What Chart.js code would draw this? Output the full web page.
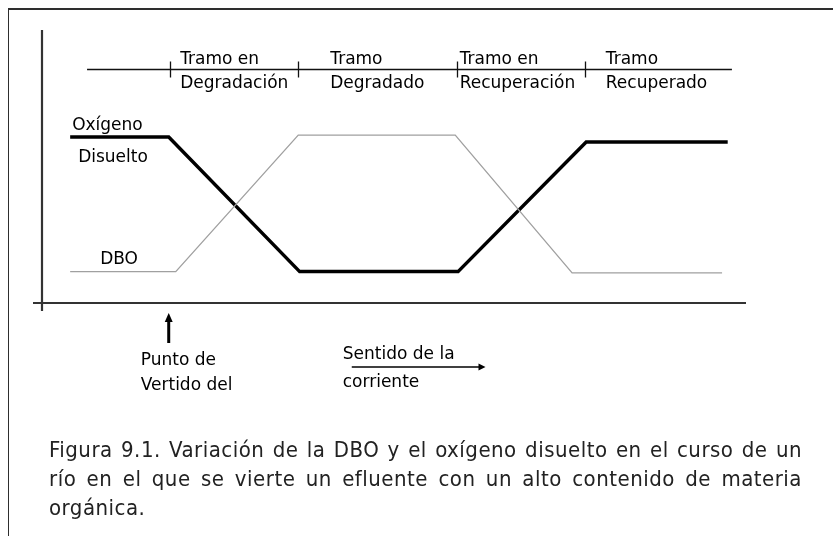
<!DOCTYPE html>
<html><head><meta charset="utf-8">
<script src="https://cdn.jsdelivr.net/npm/chart.js@4/dist/chart.umd.min.js"></script>
<style>
html,body{margin:0;padding:0;background:#fff;}
#wrap{position:relative;width:833px;height:536px;overflow:hidden;background:#fff;}
#frame{position:absolute;left:8px;top:8px;width:840px;height:540px;border-top:2px solid #2e2e2e;border-left:1px solid #2e2e2e;}
canvas{position:absolute;left:0;top:0;}
#caption{position:absolute;left:49px;top:435px;width:753px;font-family:"DejaVu Sans Condensed","DejaVu Sans",sans-serif;font-size:22px;line-height:29px;color:#222;letter-spacing:0.5px;}
.j{text-align:justify;text-align-last:justify;}
.l{text-align:left;white-space:nowrap;}
</style></head>
<body>
<div id="wrap">
<div id="frame"></div>
<canvas id="c" width="833" height="536"></canvas>
<div id="caption">
<div class="j">Figura 9.1. Variación de la DBO y el oxígeno disuelto en el curso de un</div>
<div class="j">río en el que se vierte un efluente con un alto contenido de materia</div>
<div class="l">orgánica.</div>
</div>
</div>
<script>
// ---- data (distance along river in arbitrary units, level in arbitrary units) ----
const oxygenX = [4, 18, 36.6, 59.1, 77.3, 97.4];
const oxygenY = [6.08, 6.08, 1.15, 1.15, 5.9, 5.9];
const dboX = [4, 19, 36.4, 58.7, 75.3, 96.6];
const dboY = [1.15, 1.15, 6.15, 6.15, 1.1, 1.1];
const sectionBounds = [18.2, 36.4, 58.9, 77.1];
const sectionTop = ["Tramo en", "Tramo", "Tramo en", "Tramo"];
const sectionBottom = ["Degradación", "Degradado", "Recuperación", "Recuperado"];
const sectionLineRange = [6.4, 98.0];
const sectionLevel = 8.57;
const dischargePoint = 18;
const flowArrowRange = [44, 63];
const oxygenLabel = ["Oxígeno", "Disuelto"];
const dboLabel = ["DBO"];
const dischargeLabel = ["Punto de", "Vertido del"];
const flowLabel = ["Sentido de la", "corriente"];

// ---- layout (pixel offsets only) ----
const sectionLabelOffsets = [10, 32, 3, 21];
const FONT = '17px "DejaVu Sans"';

function toPts(xs, ys){ return xs.map((x,i)=>({x:x, y:ys[i]})); }

const annot = {
  id: 'annot',
  afterDatasetsDraw(chart){
    const ctx = chart.ctx;
    const xs = chart.scales.x, ys = chart.scales.y;
    const X = v => xs.getPixelForValue(v), Y = v => ys.getPixelForValue(v);
    ctx.save();
    // axes
    ctx.strokeStyle = '#333'; ctx.lineWidth = 2.2;
    ctx.beginPath();
    ctx.moveTo(X(0), Y(10)); ctx.lineTo(X(0), Y(0) + 8);
    ctx.moveTo(X(0) - 9, Y(0)); ctx.lineTo(X(100), Y(0));
    ctx.stroke();
    // section line and ticks
    ctx.strokeStyle = '#111'; ctx.lineWidth = 1.3;
    ctx.beginPath();
    const sy = Math.round(Y(sectionLevel)) + 0.5;
    ctx.moveTo(X(sectionLineRange[0]), sy); ctx.lineTo(X(sectionLineRange[1]), sy);
    sectionBounds.forEach(b => { const bx = Math.round(X(b)) + 0.5; ctx.moveTo(bx, sy - 8); ctx.lineTo(bx, sy + 8); });
    ctx.stroke();
    // section labels
    ctx.fillStyle = '#000'; ctx.font = FONT; ctx.textBaseline = 'alphabetic'; ctx.textAlign = 'left';
    sectionBounds.forEach((b, i) => {
      const lx = X(b) + sectionLabelOffsets[i];
      ctx.fillText(sectionTop[i], lx, sy - 6);
      ctx.fillText(sectionBottom[i], lx, sy + 18);
    });
    // series labels
    const ox = X(oxygenX[0]), oy = Y(oxygenY[0]);
    ctx.fillText(oxygenLabel[0], ox + 2, oy - 7);
    ctx.fillText(oxygenLabel[1], ox + 8, oy + 25);
    const dx = X(dboX[0]), dy = Y(dboY[0]);
    ctx.fillText(dboLabel[0], dx + 30, dy - 8);
    // discharge arrow
    const ax = X(dischargePoint), ay = Y(0);
    ctx.strokeStyle = '#000'; ctx.lineWidth = 3;
    ctx.beginPath(); ctx.moveTo(ax, ay + 18); ctx.lineTo(ax, ay + 40); ctx.stroke();
    ctx.beginPath(); ctx.moveTo(ax, ay + 10); ctx.lineTo(ax - 4, ay + 19); ctx.lineTo(ax + 4, ay + 19); ctx.closePath(); ctx.fill();
    ctx.fillText(dischargeLabel[0], ax - 28, ay + 62);
    ctx.fillText(dischargeLabel[1], ax - 28, ay + 87);
    // flow arrow
    const fx0 = X(flowArrowRange[0]), fx1 = X(flowArrowRange[1]), fy = ay + 64;
    ctx.lineWidth = 1.5;
    ctx.beginPath(); ctx.moveTo(fx0, fy); ctx.lineTo(fx1 - 5, fy); ctx.stroke();
    ctx.beginPath(); ctx.moveTo(fx1, fy); ctx.lineTo(fx1 - 7, fy - 3.5); ctx.lineTo(fx1 - 7, fy + 3.5); ctx.closePath(); ctx.fill();
    ctx.fillText(flowLabel[0], fx0 - 9, ay + 56);
    ctx.fillText(flowLabel[1], fx0 - 9, ay + 84);
    ctx.restore();
  }
};

new Chart(document.getElementById('c'), {
  type: 'line',
  data: {
    datasets: [
      { label: 'DBO', data: toPts(dboX, dboY), borderColor: '#a0a0a0', borderWidth: 1.3, pointRadius: 0, tension: 0, fill: false },
      { label: 'Oxígeno disuelto', data: toPts(oxygenX, oxygenY), borderColor: '#000', borderWidth: 3.5, pointRadius: 0, tension: 0, fill: false, borderJoinStyle: 'miter' }
    ]
  },
  options: {
    responsive: false, animation: false, devicePixelRatio: 1,
    layout: { padding: { left: 42, right: 87, top: 30, bottom: 233 } },
    plugins: { legend: { display: false }, tooltip: { enabled: false } },
    scales: {
      x: { type: 'linear', min: 0, max: 100, display: false },
      y: { type: 'linear', min: 0, max: 10, display: false }
    }
  },
  plugins: [annot]
});
</script>
</body></html>
